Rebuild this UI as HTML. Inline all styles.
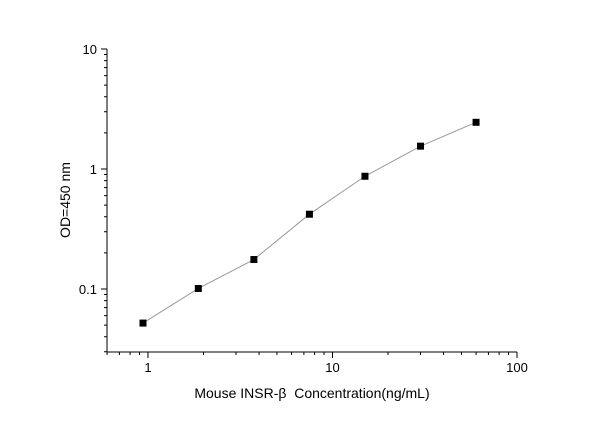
<!DOCTYPE html>
<html><head><meta charset="utf-8"><style>
html,body{margin:0;padding:0;background:#fff;}
svg{display:block;font-family:"Liberation Sans",sans-serif;}
</style></head><body>
<svg id="chart" width="600" height="421" viewBox="0 0 600 421"></svg>
<script>
const xValues=[0.94,1.875,3.75,7.5,15,30,60];
const yValues=[0.052,0.101,0.176,0.42,0.87,1.55,2.45];
const xTickLabels=["1","10","100"];
const yTickLabels=["0.1","1","10"];
const NS="http://www.w3.org/2000/svg";
const svg=document.getElementById('chart');
const L=107,R=517,T=49,B=352;
const xmin=-0.222,xmax=2,ymin=-1.525,ymax=1;
const sx=v=>L+(Math.log10(v)-xmin)/(xmax-xmin)*(R-L);
const sy=v=>B-(Math.log10(v)-ymin)/(ymax-ymin)*(B-T);
function el(t,a,txt){const e=document.createElementNS(NS,t);for(const k in a)e.setAttribute(k,a[k]);if(txt!==undefined)e.textContent=txt;svg.appendChild(e);return e;}
let e;
e=el('line',{x1:L,y1:T,x2:L,y2:B,stroke:'#000','stroke-width':1});


e=el('line',{x1:L,y1:B,x2:R,y2:B,stroke:'#000','stroke-width':1});


for(let d=-2;d<=1;d++){for(let m=1;m<=9;m++){const v=m*Math.pow(10,d);const lv=Math.log10(v);if(lv<ymin||lv>ymax+1e-9)continue;const y=sy(v);const len=m==1?6:3;
e=el('line',{x1:L-len,y1:y,x2:L,y2:y,stroke:'#000','stroke-width':1});

}}
for(let d=-1;d<=2;d++){for(let m=1;m<=9;m++){const v=m*Math.pow(10,d);const lv=Math.log10(v);if(lv<xmin||lv>xmax+1e-9)continue;const x=sx(v);const len=m==1?6:3;
e=el('line',{x1:x,y1:B,x2:x,y2:B+len,stroke:'#000','stroke-width':1});

}}
yTickLabels.forEach(t=>{e=el('text',{x:L-10,y:sy(parseFloat(t))+5,'text-anchor':'end','font-size':13},t);

});
xTickLabels.forEach(t=>{e=el('text',{x:sx(parseFloat(t)),y:B+20,'text-anchor':'middle','font-size':13},t);

});
e=el('polyline',{points:xValues.map((x,i)=>sx(x)+','+sy(yValues[i])).join(' '),fill:'none',stroke:'#999','stroke-width':1});


xValues.forEach((x,i)=>{e=el('rect',{x:sx(x)-3.5,y:sy(yValues[i])-3.5,width:7,height:7,fill:'#000'});

});
e=el('text',{x:312,y:398,'text-anchor':'middle','font-size':14},'Mouse INSR-\u03b2\u00a0\u00a0Concentration(ng/mL)');


e=el('text',{x:0,y:0,'text-anchor':'middle','font-size':14,transform:'translate(70,200) rotate(-90)'},'OD=450 nm');


</script>
</body></html>
